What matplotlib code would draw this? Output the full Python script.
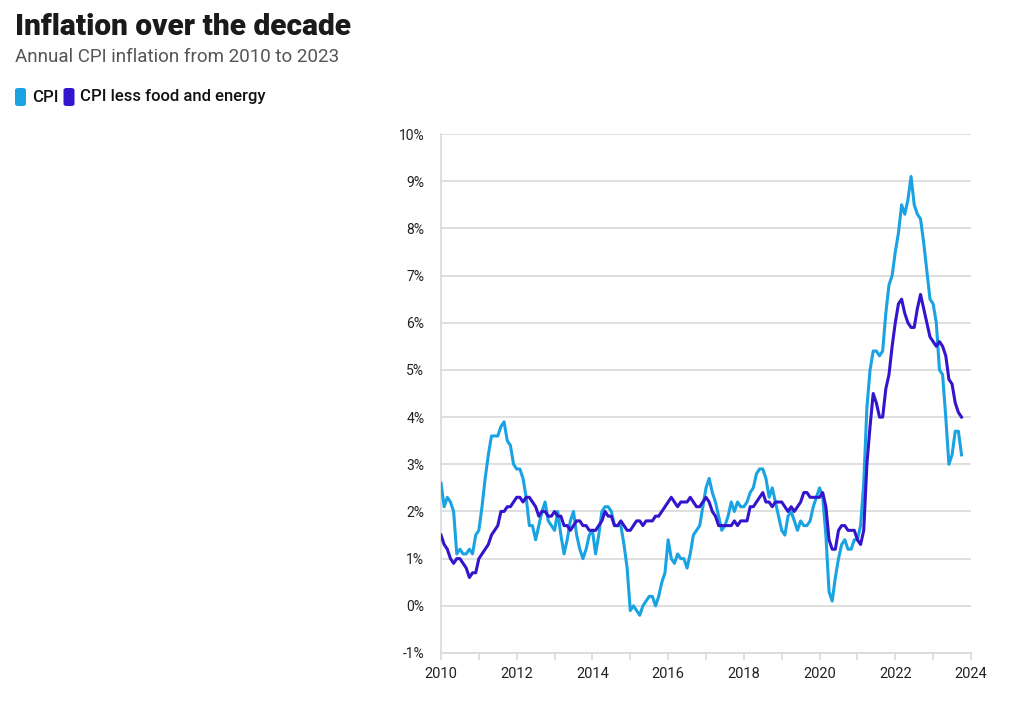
import numpy as np
import matplotlib.pyplot as plt
from matplotlib.patches import FancyBboxPatch

plt.rcParams["font.family"] = ["Roboto", "DejaVu Sans"]

# monthly year-over-year inflation, Jan 2010 .. Oct 2023 (%)
cpi = [
    2.6, 2.1, 2.3, 2.2, 2.0, 1.1, 1.2, 1.1, 1.1, 1.2, 1.1, 1.5,
    1.6, 2.1, 2.7, 3.2, 3.6, 3.6, 3.6, 3.8, 3.9, 3.5, 3.4, 3.0,
    2.9, 2.9, 2.7, 2.3, 1.7, 1.7, 1.4, 1.7, 2.0, 2.2, 1.8, 1.7,
    1.6, 2.0, 1.5, 1.1, 1.4, 1.8, 2.0, 1.5, 1.2, 1.0, 1.2, 1.5,
    1.6, 1.1, 1.5, 2.0, 2.1, 2.1, 2.0, 1.7, 1.7, 1.7, 1.3, 0.8,
    -0.1, 0.0, -0.1, -0.2, 0.0, 0.1, 0.2, 0.2, 0.0, 0.2, 0.5, 0.7,
    1.4, 1.0, 0.9, 1.1, 1.0, 1.0, 0.8, 1.1, 1.5, 1.6, 1.7, 2.1,
    2.5, 2.7, 2.4, 2.2, 1.9, 1.6, 1.7, 1.9, 2.2, 2.0, 2.2, 2.1,
    2.1, 2.2, 2.4, 2.5, 2.8, 2.9, 2.9, 2.7, 2.3, 2.5, 2.2, 1.9,
    1.6, 1.5, 1.9, 2.0, 1.8, 1.6, 1.8, 1.7, 1.7, 1.8, 2.1, 2.3,
    2.5, 2.3, 1.5, 0.3, 0.1, 0.6, 1.0, 1.3, 1.4, 1.2, 1.2, 1.4,
    1.4, 1.7, 2.6, 4.2, 5.0, 5.4, 5.4, 5.3, 5.4, 6.2, 6.8, 7.0,
    7.5, 7.9, 8.5, 8.3, 8.6, 9.1, 8.5, 8.3, 8.2, 7.7, 7.1, 6.5,
    6.4, 6.0, 5.0, 4.9, 4.0, 3.0, 3.2, 3.7, 3.7, 3.2,
]
core = [
    1.5, 1.3, 1.2, 1.0, 0.9, 1.0, 1.0, 0.9, 0.8, 0.6, 0.7, 0.7,
    1.0, 1.1, 1.2, 1.3, 1.5, 1.6, 1.7, 2.0, 2.0, 2.1, 2.1, 2.2,
    2.3, 2.3, 2.2, 2.3, 2.3, 2.2, 2.1, 1.9, 2.0, 2.0, 1.9, 1.9,
    2.0, 1.9, 1.9, 1.7, 1.7, 1.6, 1.7, 1.8, 1.8, 1.7, 1.7, 1.6,
    1.6, 1.6, 1.7, 1.8, 2.0, 1.9, 1.9, 1.7, 1.7, 1.8, 1.7, 1.6,
    1.6, 1.7, 1.8, 1.8, 1.7, 1.8, 1.8, 1.8, 1.9, 1.9, 2.0, 2.1,
    2.2, 2.3, 2.2, 2.1, 2.2, 2.2, 2.2, 2.3, 2.2, 2.1, 2.1, 2.2,
    2.3, 2.2, 2.0, 1.9, 1.7, 1.7, 1.7, 1.7, 1.7, 1.8, 1.7, 1.8,
    1.8, 1.8, 2.1, 2.1, 2.2, 2.3, 2.4, 2.2, 2.2, 2.1, 2.2, 2.2,
    2.2, 2.1, 2.0, 2.1, 2.0, 2.1, 2.2, 2.4, 2.4, 2.3, 2.3, 2.3,
    2.3, 2.4, 2.1, 1.4, 1.2, 1.2, 1.6, 1.7, 1.7, 1.6, 1.6, 1.6,
    1.4, 1.3, 1.6, 3.0, 3.8, 4.5, 4.3, 4.0, 4.0, 4.6, 4.9, 5.5,
    6.0, 6.4, 6.5, 6.2, 6.0, 5.9, 5.9, 6.3, 6.6, 6.3, 6.0, 5.7,
    5.6, 5.5, 5.6, 5.5, 5.3, 4.8, 4.7, 4.3, 4.1, 4.0,
]
series_names = ["CPI", "CPI less food and energy"]
colors = ["#1aa3e2", "#3414cc"]

t = 2010 + np.arange(len(cpi)) / 12.0

fig = plt.figure(figsize=(10.24, 7.12), dpi=100)
ax = fig.add_axes([441 / 1024, 1 - 653 / 712, 530 / 1024, 519 / 712])

ax.plot(t, cpi, color=colors[0], lw=2.2, solid_joinstyle="round", zorder=3)
ax.plot(t, core, color=colors[1], lw=2.2, solid_joinstyle="round", zorder=4)

ax.set_xlim(2010, 2024)
ax.set_ylim(-1, 10)
ax.set_yticks(np.arange(-1, 11))
ax.set_yticklabels([f"{v}%" for v in range(-1, 11)])
ax.set_xticks(np.arange(2010, 2025, 2))
ax.set_xticks(np.arange(2011, 2024, 2), minor=True)
ax.grid(axis="y", color="#d9d9d9", lw=1.2)
ax.set_axisbelow(True)

for s in ["top", "right"]:
    ax.spines[s].set_visible(False)
for s in ["left", "bottom"]:
    ax.spines[s].set_color("#d9d9d9")
    ax.spines[s].set_linewidth(1.2)

ax.tick_params(axis="y", length=0, pad=12, labelsize=10, labelcolor="#222222")
ax.tick_params(axis="x", which="both", length=5, color="#d9d9d9", width=1.2,
               pad=5, labelsize=10.5, labelcolor="#222222")

fig.text(15 / 1024, 1 - 27 / 712, "Inflation over the decade", fontsize=21.5,
         fontweight="black", color="#1a1a1a", va="center", ha="left")
fig.text(15 / 1024, 1 - 57 / 712, "Annual CPI inflation from 2010 to 2023",
         fontsize=13.5, color="#555555", va="center", ha="left")

# legend with rounded swatches
x0 = 15
for name, c in zip(series_names, colors):
    box = FancyBboxPatch((x0 / 1024, 1 - 106 / 712), 11 / 1024, 18 / 712,
                         boxstyle="round,pad=0,rounding_size=0.003",
                         transform=fig.transFigure, facecolor=c, edgecolor="none")
    fig.patches.append(box)
    txt = fig.text((x0 + 17) / 1024, 1 - 97 / 712, name, fontsize=12,
                   fontweight="medium", color="#111111", va="center", ha="left")
    fig.canvas.draw()
    bb = txt.get_window_extent()
    x0 = bb.x1 + 5

fig.savefig("out.png", dpi=100)
